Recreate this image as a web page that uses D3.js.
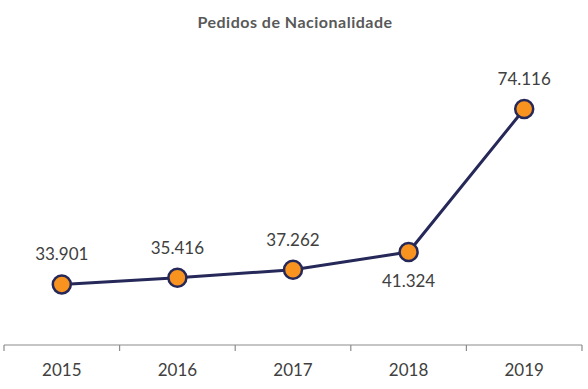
<!DOCTYPE html>
<html>
<head>
<meta charset="utf-8">
<script src="https://cdn.jsdelivr.net/npm/d3@7"></script>
<style>
  body { margin: 0; background: #fff; }
  svg { font-family: Lato, "Open Sans", sans-serif; }
</style>
</head>
<body>
<div id="chart"></div>
<script>
const years = ['2015', '2016', '2017', '2018', '2019'];
const values = [33901, 35416, 37262, 41324, 74116];
const valueLabels = ['33.901', '35.416', '37.262', '41.324', '74.116'];
const labelBelow = [false, false, false, true, false];

const width = 588;
const height = 389;
const lineColor = '#252858';
const markerFill = '#F7931E';
const textColor = '#404040';
const axisColor = '#8c8c8c';

const svg = d3.select('#chart')
  .append('svg')
  .attr('width', width)
  .attr('height', height);

svg.append('text')
  .attr('x', 295)
  .attr('y', 28)
  .attr('text-anchor', 'middle')
  .style('font-size', '16px')
  .style('letter-spacing', '0.5px')
  .style('font-weight', 'bold')
  .style('fill', '#595959')
  .text('Pedidos de Nacionalidade');

const xScale = d3.scaleBand()
  .domain(years)
  .range([4, 582]);

const yScale = d3.scaleLinear()
  .domain([20000, 80000])
  .range([345, 83.4]);

// x axis with ticks between categories
const xAxis = svg.append('g')
  .attr('transform', `translate(0, ${yScale(20000)})`);

xAxis.append('line')
  .attr('x1', xScale.range()[0])
  .attr('x2', xScale.range()[1])
  .attr('stroke', axisColor)
  .attr('stroke-width', 1.2);

const boundaries = years.map(y => xScale(y)).concat([xScale.range()[1]]);
xAxis.selectAll('.tick-mark')
  .data(boundaries)
  .enter()
  .append('line')
  .attr('x1', d => d)
  .attr('x2', d => d)
  .attr('y1', 0)
  .attr('y2', 6)
  .attr('stroke', axisColor)
  .attr('stroke-width', 1.2);

xAxis.selectAll('.year')
  .data(years)
  .enter()
  .append('text')
  .attr('x', d => xScale(d) + xScale.bandwidth() / 2)
  .attr('y', 31)
  .attr('text-anchor', 'middle')
  .style('font-size', '17px')
  .style('fill', textColor)
  .text(d => d);

const cx = i => xScale(years[i]) + xScale.bandwidth() / 2;

const line = d3.line()
  .x((d, i) => cx(i))
  .y(d => yScale(d));

svg.append('path')
  .datum(values)
  .attr('fill', 'none')
  .attr('stroke', lineColor)
  .attr('stroke-width', 3)
  .attr('d', line);

svg.selectAll('.marker')
  .data(values)
  .enter()
  .append('circle')
  .attr('cx', (d, i) => cx(i))
  .attr('cy', d => yScale(d))
  .attr('r', 9)
  .attr('fill', markerFill)
  .attr('stroke', lineColor)
  .attr('stroke-width', 2.5);

svg.selectAll('.value-label')
  .data(values)
  .enter()
  .append('text')
  .attr('x', (d, i) => cx(i))
  .attr('y', (d, i) => yScale(d) + (labelBelow[i] ? 35 : -24))
  .attr('text-anchor', 'middle')
  .style('font-size', '17px')
  .style('fill', textColor)
  .text((d, i) => valueLabels[i]);
</script>
</body>
</html>
